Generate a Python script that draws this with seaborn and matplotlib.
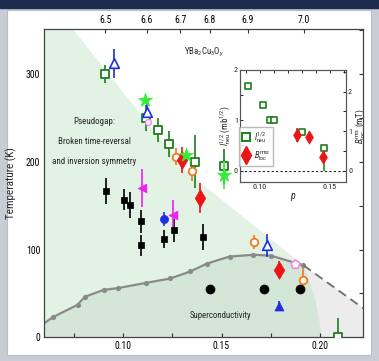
import matplotlib
matplotlib.use("Agg")
import matplotlib.pyplot as plt
from matplotlib import font_manager
from matplotlib.lines import Line2D
from matplotlib.patches import Polygon, Rectangle
from matplotlib.ticker import MultipleLocator
import seaborn as sns

# ---- main panel data: hole doping p, temperature T (K), error bars ----
tc_p = [0.060, 0.0644, 0.0769, 0.0805, 0.0901, 0.0972, 0.1116, 0.124, 0.1341, 0.1426, 0.1541, 0.1662, 0.1751, 0.1916]
tc_T = [16, 23, 37, 46, 54, 56, 62, 67, 75, 84, 92, 94, 93, 82]
tc_dash_p = [0.1916, 0.222]
tc_dash_T = [82, 33]

# outline of the shaded regions
pg_edge_p = [0.0746, 0.1317, 0.1916]
pg_edge_T = [351, 190, 82]
dome_edge_p = [0.1916, 0.1955, 0.1985, 0.2005, 0.201]
dome_edge_T = [82, 60, 35, 10, 0]

neu_sq_p = [0.091, 0.1116, 0.1175, 0.1231, 0.1366, 0.1514, 0.209]
neu_sq_T = [300, 250, 236, 220, 200, 195, 0]
neu_sq_lo = [10, 15, 14, 15, 30, 20, 0]
neu_sq_hi = [10, 15, 14, 15, 30, 20, 22]

blue_tri_p = [0.0952, 0.112, 0.173]
blue_tri_T = [312, 257, 105]
blue_tri_err = [17, 10, 13]

blue_ftri_p = [0.179]
blue_ftri_T = [36]
blue_ftri_err = [5]

blue_circ_p = [0.121]
blue_circ_T = [135]
blue_circ_err = [8]

star_p = [0.1109, 0.132, 0.1514]
star_T = [270, 208, 185]
star_err = [0, 0, 16]

orange_p = [0.127, 0.135, 0.1666, 0.1913]
orange_T = [206, 190, 109, 65]
orange_err = [10, 12, 8, 14]

red_p = [0.130, 0.139, 0.179]
red_T = [202, 159, 77]
red_err = [15, 17, 10]

mag_p = [0.1096, 0.1256]
mag_T = [170, 139]
mag_err = [22, 18]

pink_circ_p = [0.1126]
pink_circ_T = [245]
pink_pent_p = [0.1874]
pink_pent_T = [84]

black_sq_p = [0.0915, 0.1006, 0.1037, 0.1092, 0.1089, 0.1208, 0.126, 0.1404]
black_sq_T = [167, 157, 151, 132, 105, 112, 122, 114]
black_sq_err = [15, 12, 15, 13, 12, 10, 13, 15]

sc_p = [0.1443, 0.1717, 0.190]
sc_T = [55, 55, 55]

# top axis: oxygen content y of YBa2Cu3Oy
oxy_labels = ["6.5", "6.6", "6.7", "6.8", "6.9", "7.0"]
oxy_p = [0.0909, 0.1121, 0.129, 0.1439, 0.1632, 0.1917]

# ---- inset data ----
ins_sq_p = [0.0917, 0.1019, 0.1074, 0.1102, 0.1302, 0.1457]
ins_sq_v = [1.69, 1.31, 1.01, 1.01, 0.77, 0.45]
ins_sq_lo = [0, 0, 0, 0, 0, 0.45]
ins_sq_hi = [0, 0, 0, 0, 0, 0]

ins_b_p = [0.1267, 0.1350, 0.1450]
ins_b_v = [0.90, 0.85, 0.34]
ins_b_err = [0.17, 0.08, 0.08]

GREEN = "#1e7d1e"
BLUE = "#1f2ee0"
ORANGE = "#f07a1e"
RED = "#ec1515"
MAG = "#ee22ee"
PINK = "#ee8be8"
LIME = "#33ee33"

sns.set_style("white")
# the original uses a narrow sans; use one if present, otherwise shrink Liberation Sans
names = {f.name for f in font_manager.fontManager.ttflist}
font, k = "Liberation Sans", 1.0
for cand, fac in [("Liberation Sans Narrow", 1.22), ("Roboto Condensed", 1.1), ("Open Sans Condensed", 1.1)]:
    if cand in names:
        font, k = cand, fac
        break
plt.rcParams["font.family"] = [font, "DejaVu Sans"]
plt.rcParams["mathtext.fontset"] = "custom"
plt.rcParams["mathtext.rm"] = font
plt.rcParams["mathtext.it"] = font + ":italic"

fig = plt.figure(figsize=(3.79, 3.61), dpi=100)
fig.patch.set_facecolor("#c8cdd5")
fig.add_artist(Rectangle((0, 0.979), 1, 0.021, transform=fig.transFigure,
                         color="#1c2b4d", zorder=-5))
fig.add_artist(Rectangle((0.0185, 0.017), 0.961, 0.955, transform=fig.transFigure,
                         facecolor="white", edgecolor="#b9bec6", lw=0.8, zorder=-5))

ax = fig.add_axes([0.1169, 0.0657, 0.8417, 0.8532])
ax.set_xlim(0.06, 0.222)
ax.set_ylim(0, 351)

# background regions
pg_poly = [(0.06, 351)] + list(zip(pg_edge_p, pg_edge_T)) + list(zip(dome_edge_p[1:], dome_edge_T[1:])) + [(0.06, 0)]
dome_poly = list(zip(tc_p, tc_T)) + list(zip(dome_edge_p[1:], dome_edge_T[1:])) + [(0.06, 0)]
gray_poly = [(tc_dash_p[0], tc_dash_T[0]), (tc_dash_p[1], tc_dash_T[1]), (0.222, 0)] + \
    list(zip(dome_edge_p[::-1], dome_edge_T[::-1]))
ax.add_patch(Polygon(pg_poly, closed=True, facecolor="#e2f3e6", edgecolor="none", zorder=0))
ax.add_patch(Polygon(dome_poly, closed=True, facecolor="#d3e6d8", edgecolor="none", zorder=0.5))
ax.add_patch(Polygon(gray_poly, closed=True, facecolor="#ececec", edgecolor="none", zorder=0.5))

sns.lineplot(x=tc_p, y=tc_T, sort=False, color="#8a8a8a", lw=1.6, ax=ax, zorder=2)
sns.scatterplot(x=tc_p[1:], y=tc_T[1:], color="#8a8a8a", s=14, linewidth=0, ax=ax, zorder=2)
ax.plot(tc_dash_p, tc_dash_T, ls=(0, (5, 3)), color="#6e6e6e", lw=1.3, zorder=2)


def series(p, T, err, marker, s, face, edge, lw=1.2, z=4):
    ax.errorbar(p, T, yerr=err, fmt="none", ecolor=edge, elinewidth=1.2, capsize=0, zorder=z - 1)
    sns.scatterplot(x=p, y=T, marker=marker, s=s, color=face, edgecolor=edge,
                    linewidth=lw, ax=ax, zorder=z)


series(black_sq_p, black_sq_T, black_sq_err, "s", 24, "black", "black", lw=0.5)
series(sc_p, sc_T, None, "o", 42, "black", "black", lw=0.5)
series(neu_sq_p, neu_sq_T, [neu_sq_lo, neu_sq_hi], "s", 32, "white", GREEN, lw=1.3)
series(blue_tri_p, blue_tri_T, blue_tri_err, "^", 48, "white", BLUE, lw=1.2)
series(blue_ftri_p, blue_ftri_T, blue_ftri_err, "^", 42, BLUE, BLUE, lw=0.5)
series(blue_circ_p, blue_circ_T, blue_circ_err, "o", 34, BLUE, BLUE, lw=0.5)
series(orange_p, orange_T, orange_err, "o", 30, "white", ORANGE, lw=1.3)
series(red_p, red_T, red_err, "d", 80, RED, RED, lw=0.5)
series(mag_p, mag_T, mag_err, "<", 40, MAG, MAG, lw=0.5)
series(pink_circ_p, pink_circ_T, None, "o", 18, "white", PINK, lw=1.0)
series(pink_pent_p, pink_pent_T, None, "p", 45, "white", PINK, lw=1.2)
series(star_p, star_T, star_err, "*", 110, LIME, LIME, lw=0.5, z=5)

ax.text(0.0853, 246, "Pseudogap:", ha="center", va="center", fontsize=5.9 * k)
ax.text(0.0853, 223, "Broken time-reversal", ha="center", va="center", fontsize=5.9 * k)
ax.text(0.0853, 200, "and inversion symmetry", ha="center", va="center", fontsize=5.9 * k)
ax.text(0.1493, 25, "Superconductivity", ha="center", va="center", fontsize=5.7 * k)
ax.text(0.1412, 325, r"YBa$_2$Cu$_3$O$_y$", ha="center", va="center", fontsize=5.8 * k)

ax.xaxis.set_major_locator(MultipleLocator(0.05))
ax.xaxis.set_minor_locator(MultipleLocator(0.025))
ax.yaxis.set_major_locator(MultipleLocator(100))
ax.yaxis.set_minor_locator(MultipleLocator(50))
ax.xaxis.set_major_formatter(plt.FuncFormatter(lambda v, _: f"{v:.2f}"))
ax.tick_params(which="both", direction="in", length=3, width=0.8, right=True, top=False,
               labelsize=6.4 * k, pad=3, colors="#333333", labelcolor="black")
ax.set_ylabel("Temperature (K)", fontsize=8, labelpad=6)
for sp in ax.spines.values():
    sp.set_color("#444444")
    sp.set_linewidth(0.9)

ax_top = ax.twiny()
ax_top.set_xlim(ax.get_xlim())
ax_top.set_xticks(oxy_p)
ax_top.set_xticklabels(oxy_labels)
ax_top.tick_params(direction="in", length=3, width=0.8, labelsize=6.4 * k, pad=3, colors="#333333",
                   labelcolor="black")
for sp in ax_top.spines.values():
    sp.set_visible(False)

# ---- inset ----
axin = fig.add_axes([0.6332, 0.4967, 0.2797, 0.3094])
axin.set_xlim(0.0857, 0.1614)
axin.set_ylim(-0.22, 2.0)
axin.axhline(0, color="#222222", ls=(0, (2, 2)), lw=0.8, zorder=1)
axin.errorbar(ins_sq_p, ins_sq_v, yerr=[ins_sq_lo, ins_sq_hi], fmt="none", ecolor=GREEN,
              elinewidth=1.1, capsize=0, zorder=2)
sns.scatterplot(x=ins_sq_p, y=ins_sq_v, marker="s", s=24, color="white", edgecolor=GREEN,
                linewidth=1.2, ax=axin, zorder=3)
axin.xaxis.set_major_locator(MultipleLocator(0.05))
axin.xaxis.set_minor_locator(MultipleLocator(0.01))
axin.yaxis.set_major_locator(MultipleLocator(1))
axin.yaxis.set_minor_locator(MultipleLocator(0.5))
axin.xaxis.set_major_formatter(plt.FuncFormatter(lambda v, _: f"{v:.2f}"))
axin.tick_params(which="both", direction="in", length=2.5, width=0.7, top=True,
                 labelsize=5.3 * k, pad=1.5)
axin.set_xlabel(r"$p$", fontsize=6.5 * k, labelpad=1)
axin.set_ylabel(r"$I^{1/2}_{\rm neu}$ (mb$^{1/2}$)", fontsize=5.8 * k, labelpad=1)

axr = axin.twinx()
axr.set_ylim(-0.28, 2.55)
axr.errorbar(ins_b_p, ins_b_v, yerr=ins_b_err, fmt="none", ecolor=RED, elinewidth=1.1,
             capsize=0, zorder=2)
sns.scatterplot(x=ins_b_p, y=ins_b_v, marker="d", s=45, color=RED, edgecolor=RED,
                linewidth=0.5, ax=axr, zorder=3)
axr.yaxis.set_major_locator(MultipleLocator(1))
axr.yaxis.set_minor_locator(MultipleLocator(0.5))
axr.tick_params(which="both", direction="in", length=2.5, width=0.7, labelsize=5.3 * k, pad=1.5)
axr.set_ylabel(r"$B^{\rm rms}_{\rm loc}$ (mT)", fontsize=5.8 * k, labelpad=1)
for a in (axin, axr):
    for sp in a.spines.values():
        sp.set_color("#555555")
        sp.set_linewidth(0.8)

handles = [
    Line2D([], [], ls="none", marker="s", ms=5.5, mfc="white", mec=GREEN, mew=1.4),
    Line2D([], [], ls="none", marker="d", ms=9, mfc=RED, mec=RED),
]
axr.legend(handles, [r"$I^{1/2}_{\rm neu}$", r"$B^{\rm rms}_{\rm loc}$"], loc="lower left",
           bbox_to_anchor=(-0.03, 0.12), fontsize=5.6 * k, frameon=True, fancybox=False,
           edgecolor="#aaaaaa", handlelength=0.9, handletextpad=0.5, borderpad=0.35,
           labelspacing=0.55, borderaxespad=0.3)

fig.savefig("out.png", dpi=100, facecolor=fig.get_facecolor())
